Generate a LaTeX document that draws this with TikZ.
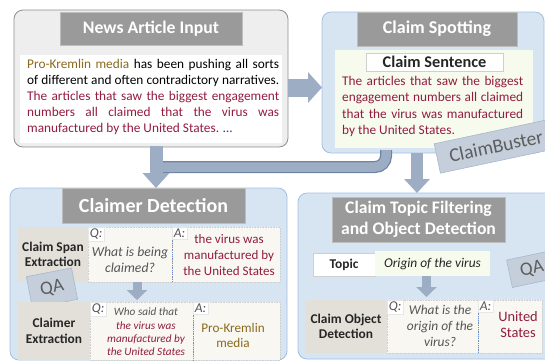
\documentclass[tikz,border=0pt]{standalone}
\usepackage{fontspec}
\setmainfont{Carlito}
\usetikzlibrary{arrows.meta}
\definecolor{pgfill}{HTML}{EEEEEE}
\definecolor{pgline}{HTML}{8F8F8F}
\definecolor{tgfill}{HTML}{9A9A9A}
\definecolor{tgline}{HTML}{BDBDBD}
\definecolor{pbfill}{HTML}{D7E5F3}
\definecolor{pbline}{HTML}{A4BFE0}
\definecolor{greenbg}{HTML}{F6FBEE}
\definecolor{beige}{HTML}{E3E0D9}
\definecolor{qabg}{HTML}{F8F7F2}
\definecolor{qaline}{HTML}{CFCFCF}
\definecolor{arrf}{HTML}{9DADC3}
\definecolor{arrl}{HTML}{6D84A5}
\definecolor{tagf}{HTML}{C5CFDC}
\definecolor{tagl}{HTML}{A9B8CC}
\definecolor{tagt}{HTML}{5D5D5D}
\definecolor{redt}{HTML}{931C3F}
\definecolor{goldt}{HTML}{8A6A1C}
\definecolor{darkt}{HTML}{262626}
\definecolor{grayt}{HTML}{555555}
\definecolor{bluet}{HTML}{2E3B8F}
\definecolor{divl}{HTML}{6F8FC4}
\begin{document}
\begin{tikzpicture}[x=1pt,y=-1pt,
  box/.style={anchor=north west, inner sep=0pt, outer sep=0pt},
  panelg/.style={box, fill=pgfill, draw=pgline, line width=0.8pt, rounded corners=9pt},
  panelb/.style={box, fill=pbfill, draw=pbline, line width=0.8pt, rounded corners=9pt},
  titlebox/.style={box, fill=tgfill, draw=tgline, line width=0.8pt, text=white, align=center, font=\fontsize{17.7}{20}\selectfont\bfseries},
  beigebox/.style={box, fill=beige, text=darkt, align=center, font=\fontsize{13.4}{15.5}\selectfont\bfseries},
  qabox/.style={box, fill=qabg, draw=qaline, densely dotted, line width=0.6pt, align=center},
  qlabel/.style={anchor=north west, fill=white, draw=qaline!50, line width=0.4pt, inner sep=1.6pt, text=grayt, font=\fontsize{13.5}{14}\selectfont\itshape},
  tag/.style={fill=tagf, draw=tagl, line width=0.6pt, text=tagt, inner sep=0pt},
  bigarrow/.style={draw=arrf, line width=18pt, -{Triangle[width=30pt,length=14pt]}},
  midarrow/.style={draw=arrf, line width=12pt, -{Triangle[width=25pt,length=14pt]}},
  smallarrow/.style={draw=arrf, line width=9pt, -{Triangle[width=20pt,length=10pt]}},
  divider/.style={draw=divl, densely dotted, line width=0.8pt}
]
\useasboundingbox (0,0) rectangle (545,360);

% ---------- News Article Input ----------
\node[panelg, minimum width=274pt, minimum height=137pt] (news) at (14,10) {};
\node[titlebox, minimum width=182pt, minimum height=33pt] (newstitle) at (60,12) {News Article Input};
\node[box, fill=white, minimum width=262pt, minimum height=88pt] (newsarea) at (20,55) {};
\node[anchor=north west, inner sep=0pt, align=left, font=\fontsize{13.3}{15.8}\selectfont] (newstext) at (27,59.5) {%
\makebox[252pt][s]{\textcolor{goldt}{Pro-Kremlin media} has been pushing all sorts}\\
\makebox[252pt][s]{of different and often contradictory narratives.}\\
\makebox[252pt][s]{\color{redt}The articles that saw the biggest engagement}\\
\makebox[252pt][s]{\color{redt}numbers all claimed that the virus was}\\
\textcolor{redt}{manufactured by the United States.} \textcolor{bluet}{\ldots}};

% ---------- Claim Spotting ----------
\node[panelb, minimum width=222pt, minimum height=141pt] (spot) at (322,12) {};
\node[titlebox, minimum width=160pt, minimum height=34pt, font=\fontsize{18}{20}\selectfont\bfseries] (spottitle) at (357,12) {Claim Spotting};
\node[box, fill=greenbg, minimum width=198pt, minimum height=98pt] (spotarea) at (335,50) {};
\node[box, fill=white, draw=qaline, line width=0.6pt, minimum width=137pt, minimum height=18pt, text=darkt, font=\fontsize{16.3}{17}\selectfont\bfseries] (sentence) at (366,53) {Claim Sentence};
\node[anchor=north west, inner sep=0pt, align=left, text=redt, font=\fontsize{13.3}{16.3}\selectfont] (spottext) at (342,76) {%
\makebox[181pt][s]{The articles that saw the biggest}\\
\makebox[181pt][s]{engagement numbers all claimed}\\
\makebox[181pt][s]{that the virus was manufactured}\\
by the United States.};
\node[tag, minimum width=120pt, minimum height=30pt, rotate=12, font=\fontsize{19.5}{21}\selectfont] (claimbuster) at (496,146) {ClaimBuster};

% ---------- connectors (top) ----------
\coordinate (elbowstart) at (386,150);
\coordinate (elbowend) at (156,167);
\draw[draw=arrl, line width=12pt, rounded corners=11pt] (elbowstart) |- (elbowend);
\draw[draw=arrf, line width=9.5pt, rounded corners=11pt] (elbowstart) |- (elbowend);
\draw[bigarrow] ([yshift=-9pt]news.east) -- ([yshift=-9pt]news.east -| spot.west);

% ---------- Claimer Detection ----------
\node[panelb, minimum width=277pt, minimum height=172pt] (claimer) at (10,188) {};
\node[titlebox, minimum width=183pt, minimum height=35pt, font=\fontsize{20}{22}\selectfont\bfseries] (claimertitle) at (62,188) {Claimer Detection};
\coordinate (vtop) at (156,146);
\draw[draw=arrf, line width=13pt, -{Triangle[width=26pt,length=15pt]}] (vtop) -- (vtop |- claimer.north);

\node[beigebox, minimum width=70pt, minimum height=55pt] (span) at (18,227) {Claim Span\\Extraction};
\node[qabox, minimum width=84pt, minimum height=55pt] (q1) at (88,227) {};
\node[qabox, minimum width=108pt, minimum height=55pt] (a1) at (172,227) {};
\draw[divider] (q1.north east) -- (q1.south east);
\node[qlabel] (q1l) at (q1.north west) {Q:};
\node[qlabel] (a1l) at (a1.north west) {A:};
\node[align=center, text=grayt, font=\fontsize{13.7}{16}\selectfont\itshape] (q1t) at (130,260) {What is being\\claimed?};
\node[align=center, text=redt, font=\fontsize{13}{16}\selectfont] (a1t) at (229,255) {the virus was\\manufactured by\\the United States};

\node[tag, minimum width=46pt, minimum height=32pt, rotate=11, font=\fontsize{19}{21}\selectfont] (qa1) at (52,288) {QA};

\node[beigebox, minimum width=72pt, minimum height=58pt] (claimerx) at (18,302) {Claimer\\Extraction};
\node[qabox, minimum width=103pt, minimum height=58pt] (q2) at (90,302) {};
\node[qabox, minimum width=87pt, minimum height=58pt] (a2) at (193,302) {};
\draw[divider] (q2.north east) -- (q2.south east);
\node[qlabel] (q2l) at (q2.north west) {Q:};
\node[qlabel] (a2l) at (a2.north west) {A:};
\node[align=center, font=\fontsize{11.2}{13.3}\selectfont\itshape] (q2t) at (146,332) {\textcolor{grayt}{Who said that}\\\textcolor{redt}{the virus was}\\\textcolor{redt}{manufactured by}\\\textcolor{redt}{the United States}};
\node[align=center, text=goldt, font=\fontsize{13.2}{15}\selectfont] (a2t) at (233,335.5) {Pro-Kremlin\\media};
\draw[smallarrow] ([xshift=7pt]q1.south) -- ([xshift=7pt,yshift=2pt]q1.south |- q2.north);

% ---------- Claim Topic Filtering ----------
\node[panelb, minimum width=260pt, minimum height=166pt] (topicp) at (298,193) {};
\draw[midarrow] ([xshift=-16pt]spot.south) -- ([xshift=-16pt]spot.south |- topicp.north);
\node[titlebox, minimum width=173pt, minimum height=45pt, font=\fontsize{17.6}{21}\selectfont\bfseries] (topictitle) at (332,197) {Claim Topic Filtering\\and Object Detection};
\node[box, fill=white, draw=qaline, line width=0.6pt, minimum width=62pt, minimum height=23pt, text=darkt, font=\fontsize{13.4}{15}\selectfont\bfseries] (topic) at (313,253) {Topic};
\node[box, fill=greenbg, minimum width=115pt, minimum height=25pt, text=darkt, font=\fontsize{13.4}{15}\selectfont\itshape] (origin) at (375,251) {Origin of the virus};
\node[tag, minimum width=46pt, minimum height=28pt, rotate=12, font=\fontsize{19}{21}\selectfont] (qa2) at (532,269) {QA};

\node[beigebox, minimum width=82pt, minimum height=53pt] (objdet) at (305,300) {Claim Object\\Detection};
\node[qabox, minimum width=91pt, minimum height=53pt] (q3) at (387,300) {};
\node[qabox, minimum width=64pt, minimum height=53pt] (a3) at (478,300) {};
\draw[divider] (q3.north east) -- (q3.south east);
\node[qlabel] (q3l) at (q3.north west) {Q:};
\node[qlabel] (a3l) at (a3.north west) {A:};
\node[align=center, text=grayt, font=\fontsize{13.4}{16}\selectfont\itshape] (q3t) at (440,326) {What is the\\origin of the\\virus?};
\node[align=center, text=redt, font=\fontsize{14.4}{16}\selectfont] (a3t) at (518,325) {United\\States};
\draw[smallarrow] ([xshift=-6pt]origin.south) -- ([xshift=-6pt,yshift=3pt]origin.south |- q3.north);
\end{tikzpicture}
\end{document}
